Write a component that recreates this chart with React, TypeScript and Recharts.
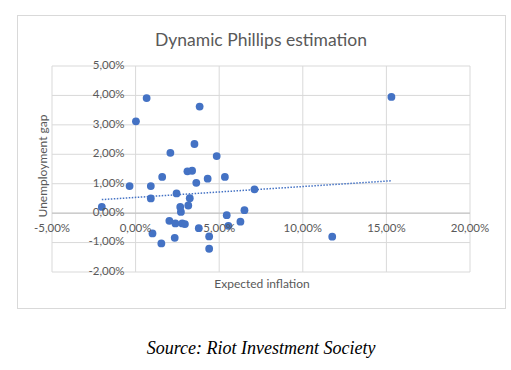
import React from 'react';
import {
  ScatterChart,
  Scatter,
  XAxis,
  YAxis,
  CartesianGrid,
  ReferenceLine,
} from 'recharts';

// expected inflation (%) and unemployment gap (%)
const inflation = [
  0.66, 0.02, 3.83, 3.52, 2.08, 4.85, 3.1, 3.38, 1.59, 4.31, 5.34, -0.36, 0.91,
  3.63, 2.45, 0.91, 3.24, 7.11, -2.02, 2.67, 3.15, 2.71, 5.45, 6.51, 2.02, 2.38,
  2.79, 2.95, 3.78, 5.55, 6.27, 1.01, 4.4, 2.34, 1.54, 4.4, 11.76, 15.3,
];
const unemploymentGap = [
  3.91, 3.12, 3.62, 2.35, 2.05, 1.94, 1.42, 1.44, 1.23, 1.17, 1.23, 0.92, 0.92,
  1.03, 0.67, 0.5, 0.51, 0.81, 0.21, 0.21, 0.26, 0.04, -0.07, 0.1, -0.26, -0.35,
  -0.35, -0.37, -0.51, -0.43, -0.29, -0.69, -0.79, -0.84, -1.03, -1.21, -0.8, 3.95,
];

// linear trendline end points
const trendX = [-2.02, 15.3];
const trendY = [0.46, 1.1];

const xTicks = [-5, 0, 5, 10, 15, 20];
const yTicks = [-2, -1, 0, 1, 2, 3, 4, 5];

const points = inflation.map((x, i) => ({ x, y: unemploymentGap[i] }));
const trend = trendX.map((x, i) => ({ x, y: trendY[i] }));

const W = 511;
const H = 370;
const PLOT_LEFT = 52;
const PLOT_RIGHT = 470;
const PLOT_TOP = 66;
const PLOT_BOTTOM = 272;

const zeroX = PLOT_LEFT + ((0 - -5) / 25) * (PLOT_RIGHT - PLOT_LEFT);
const zeroY = PLOT_TOP + ((5 - 0) / 7) * (PLOT_BOTTOM - PLOT_TOP);

const fmt = (v: number) => v.toFixed(2).replace('.', ',') + '%';
const font = 'Lato, "Open Sans", sans-serif';
const grey = '#595959';
const blue = '#4472C4';

const renderXTick = (props: any) => (
  <text
    key={`xt-${props.payload.value}`}
    x={props.x}
    y={zeroY + 16}
    textAnchor="middle"
    dominantBaseline="middle"
    fontSize={11.5}
    fontFamily={font}
    fill={grey}
  >
    {fmt(props.payload.value)}
  </text>
);

const renderYTick = (props: any) => (
  <text
    key={`yt-${props.payload.value}`}
    x={zeroX - 11}
    y={props.y}
    textAnchor="end"
    dominantBaseline="middle"
    fontSize={11.5}
    fontFamily={font}
    fill={grey}
  >
    {fmt(props.payload.value)}
  </text>
);

export default function App() {
  return (
    <div style={{ position: 'fixed', left: 0, top: 0, width: W, height: H, background: '#fff' }}>
      <div
        style={{
          position: 'absolute',
          left: 17,
          top: 15,
          width: 487,
          height: 292,
          border: '1px solid #d9d9d9',
        }}
      />
      <div
        style={{
          position: 'absolute',
          left: 17,
          width: 488,
          top: 29,
          textAlign: 'center',
          fontFamily: font,
          fontSize: 17.5,
          color: grey,
        }}
      >
        Dynamic Phillips estimation
      </div>
      <div
        style={{
          position: 'absolute',
          left: 42,
          top: 166,
          transform: 'translate(-50%, -50%) rotate(-90deg)',
          whiteSpace: 'nowrap',
          fontFamily: font,
          fontSize: 12,
          color: grey,
        }}
      >
        Unemployment gap
      </div>
      <div
        style={{
          position: 'absolute',
          left: 262,
          top: 283,
          transform: 'translate(-50%, -50%)',
          whiteSpace: 'nowrap',
          fontFamily: font,
          fontSize: 12,
          color: grey,
        }}
      >
        Expected inflation
      </div>
      <div
        style={{
          position: 'absolute',
          left: 261,
          top: 348,
          transform: 'translate(-50%, -50%)',
          whiteSpace: 'nowrap',
          fontFamily: '"Liberation Serif", serif',
          fontStyle: 'italic',
          fontSize: 18,
          color: '#000',
        }}
      >
        Source: Riot Investment Society
      </div>
      <div style={{ position: 'absolute', left: 0, top: 0 }}>
        <ScatterChart
          width={W}
          height={H}
          margin={{ top: PLOT_TOP, right: W - PLOT_RIGHT, bottom: H - PLOT_BOTTOM - 10, left: PLOT_LEFT - 10 }}
        >
          <CartesianGrid stroke="#d9d9d9" />
          <XAxis
            type="number"
            dataKey="x"
            domain={[-5, 20]}
            ticks={xTicks}
            height={10}
            axisLine={false}
            tickLine={false}
            tick={renderXTick}
            interval={0}
          />
          <YAxis
            type="number"
            dataKey="y"
            domain={[-2, 5]}
            ticks={yTicks}
            width={10}
            axisLine={false}
            tickLine={false}
            tick={renderYTick}
            interval={0}
          />
          <ReferenceLine y={0} stroke="#bfbfbf" />
          <Scatter
            data={trend}
            line={{ stroke: blue, strokeWidth: 1.5, strokeDasharray: '1.5 1.5' }}
            shape={() => <g />}
            isAnimationActive={false}
          />
          <Scatter data={points} fill={blue} isAnimationActive={false} shape={(p: any) => (
            <circle cx={p.cx} cy={p.cy} r={3.9} fill={blue} />
          )} />
        </ScatterChart>
      </div>
    </div>
  );
}
